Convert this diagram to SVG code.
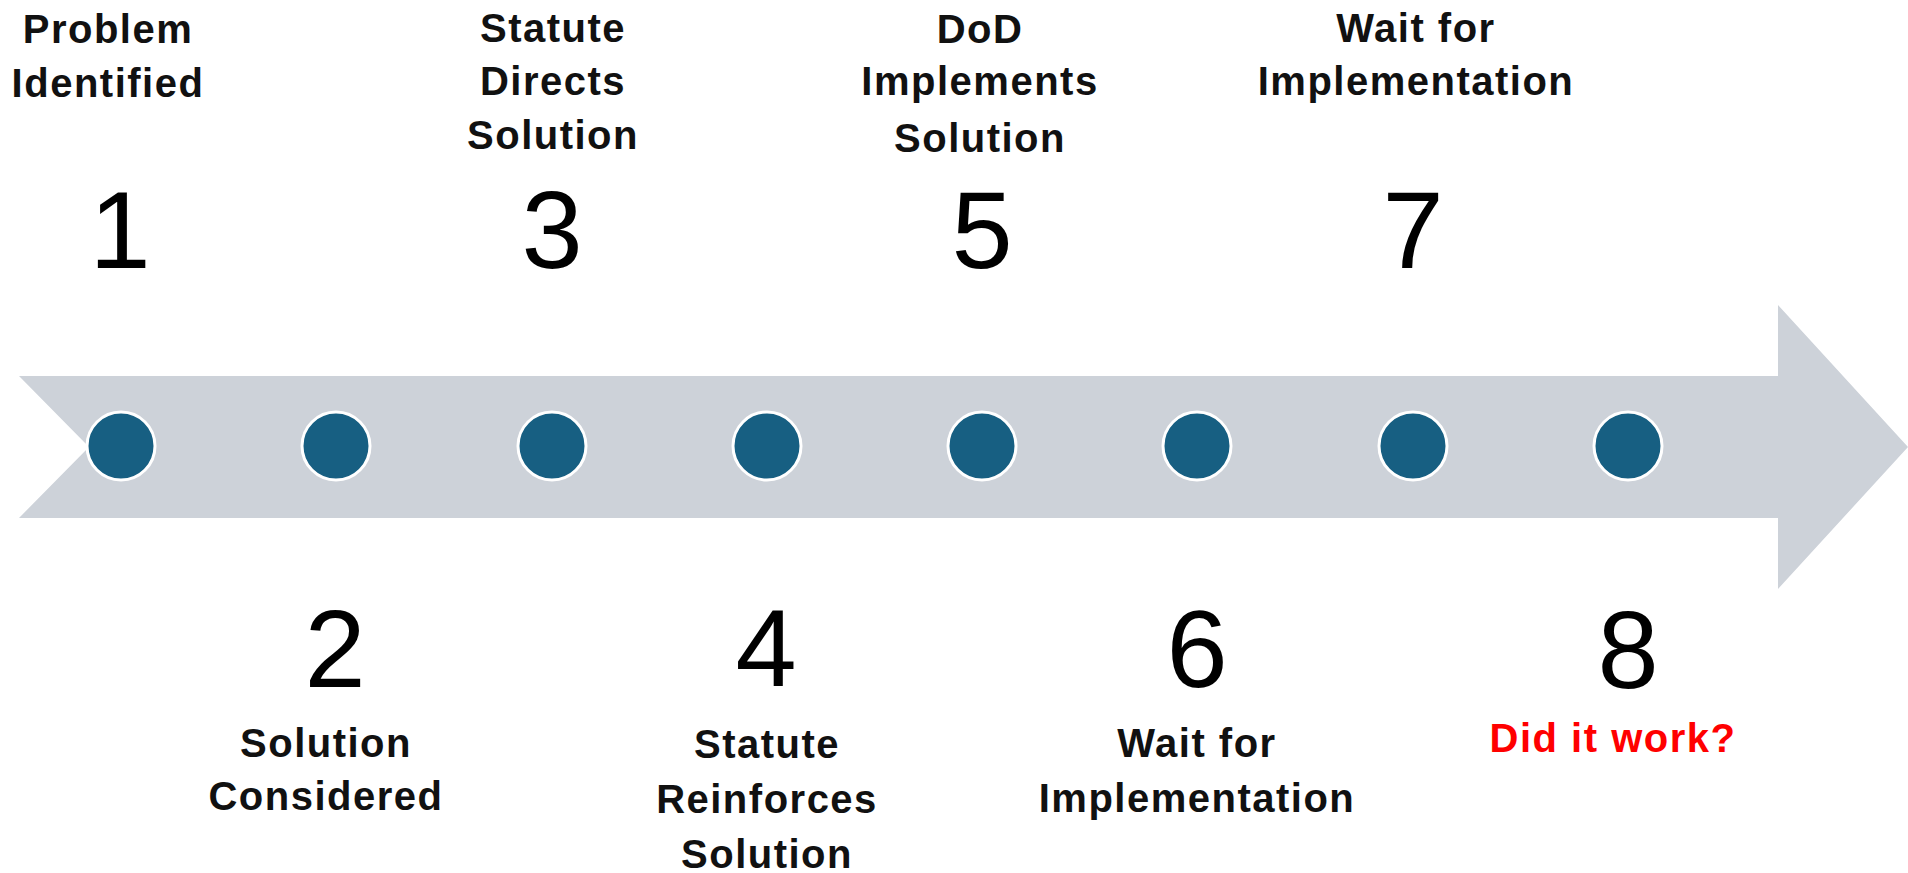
<svg xmlns="http://www.w3.org/2000/svg" width="1908" height="873" viewBox="0 0 1908 873">
  <style>
    .lbl { font-family: "Liberation Sans", Arial, sans-serif; font-weight: bold; font-size: 40px; letter-spacing: 1.5px; fill: #111111; text-anchor: middle; }
    .num { font-family: "Liberation Sans", Arial, sans-serif; font-size: 110px; fill: #000000; text-anchor: middle; }
    .red { fill: #FF0000; }
    .dot { fill: #175F82; stroke: #FFFFFF; stroke-width: 3; }
  </style>
  <rect width="1908" height="873" fill="#FFFFFF"/>
  <g id="connectors">
    <path id="timeline-arrow" d="M19,376 L1778,376 L1778,305 L1908,447 L1778,589 L1778,518 L19,518 L89,447 Z" fill="#CDD2D9"/>
  </g>
  <g id="node-1">
    <circle class="dot" cx="121" cy="446" r="34"/>
    <text class="num" x="120" y="268">1</text>
    <text class="lbl" x="108" y="43">Problem</text>
    <text class="lbl" x="108" y="97">Identified</text>
  </g>
  <g id="node-2">
    <circle class="dot" cx="336" cy="446" r="34"/>
    <text class="num" x="335" y="687">2</text>
    <text class="lbl" x="326" y="757">Solution</text>
    <text class="lbl" x="326" y="810">Considered</text>
  </g>
  <g id="node-3">
    <circle class="dot" cx="552" cy="446" r="34"/>
    <text class="num" x="552" y="268">3</text>
    <text class="lbl" x="553" y="42">Statute</text>
    <text class="lbl" x="553" y="95">Directs</text>
    <text class="lbl" x="553" y="149">Solution</text>
  </g>
  <g id="node-4">
    <circle class="dot" cx="767" cy="446" r="34"/>
    <text class="num" x="766" y="686">4</text>
    <text class="lbl" x="767" y="758">Statute</text>
    <text class="lbl" x="767" y="813">Reinforces</text>
    <text class="lbl" x="767" y="868">Solution</text>
  </g>
  <g id="node-5">
    <circle class="dot" cx="982" cy="446" r="34"/>
    <text class="num" x="982" y="268">5</text>
    <text class="lbl" x="980" y="43">DoD</text>
    <text class="lbl" x="980" y="95">Implements</text>
    <text class="lbl" x="980" y="152">Solution</text>
  </g>
  <g id="node-6">
    <circle class="dot" cx="1197" cy="446" r="34"/>
    <text class="num" x="1197" y="687">6</text>
    <text class="lbl" x="1197" y="757">Wait for</text>
    <text class="lbl" x="1197" y="812">Implementation</text>
  </g>
  <g id="node-7">
    <circle class="dot" cx="1413" cy="446" r="34"/>
    <text class="num" x="1413" y="268">7</text>
    <text class="lbl" x="1416" y="42">Wait for</text>
    <text class="lbl" x="1416" y="95">Implementation</text>
  </g>
  <g id="node-8">
    <circle class="dot" cx="1628" cy="446" r="34"/>
    <text class="num" x="1628" y="688">8</text>
    <text class="lbl red" x="1613" y="752">Did it work?</text>
  </g>
</svg>
